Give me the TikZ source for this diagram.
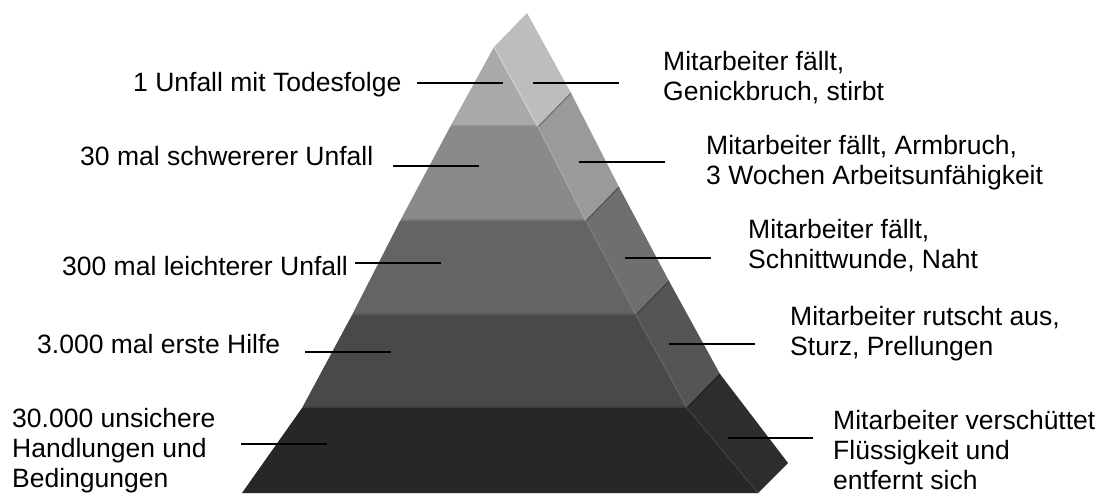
\documentclass[tikz,border=0pt]{standalone}
\usepackage{fontspec}
\setmainfont{Liberation Sans}
% layer colours: front face / right face
\definecolor{fa}{HTML}{A9A9A9}\definecolor{sa}{HTML}{BDBDBD}
\definecolor{fb}{HTML}{8A8A8A}\definecolor{sb}{HTML}{9A9A9A}
\definecolor{fc}{HTML}{646464}\definecolor{sc}{HTML}{6F6F6F}
\definecolor{fd}{HTML}{494949}\definecolor{sd}{HTML}{555555}
\definecolor{fe}{HTML}{272727}\definecolor{se}{HTML}{2D2D2D}
\begin{document}
\begin{tikzpicture}[x=1pt,y=-1pt,
  lbl/.style={font=\fontsize{26.5}{30}\selectfont, inner sep=0pt, anchor=base west, align=left},
  leader/.style={draw=black, line width=2pt},
  bevel/.style={line width=2.5pt},
  ridge/.style={line width=1pt},
  seam/.style={line width=1pt, draw=black!80}]
\useasboundingbox (0,0) rectangle (1100,493);

% --- pyramid layers (front face, right face) ---
\fill[fa] (494,47) -- (538,127) -- (450,127) -- cycle;
\fill[sa] (494,47) -- (527,13) -- (571,93) -- (538,127) -- cycle;
\fill[fb] (450,127) -- (538,127) -- (586,221) -- (400,221) -- cycle;
\fill[sb] (538,127) -- (571,93) -- (619,187) -- (586,221) -- cycle;
\fill[fc] (400,221) -- (586,221) -- (636,315) -- (352,315) -- cycle;
\fill[sc] (586,221) -- (619,187) -- (669,281) -- (636,315) -- cycle;
\fill[fd] (352,315) -- (636,315) -- (687,408) -- (302,408) -- cycle;
\fill[sd] (636,315) -- (669,281) -- (720,374) -- (687,408) -- cycle;
\fill[fe] (302,408) -- (687,408) -- (758,493) -- (242,493) -- cycle;
\fill[se] (687,408) -- (720,374) -- (788,463) -- (758,493) -- cycle;

% bevel strips along the lower edge of each front face
\draw[bevel, color=fa!85!black] (451,125.8) -- (537,125.8);
\draw[bevel, color=fb!88!black] (401,219.8) -- (585,219.8);
\draw[bevel, color=fc!88!black] (353,313.8) -- (635,313.8);
\draw[bevel, color=fd!85!black] (303,406.8) -- (686,406.8);

% light ridges between front and right faces
\draw[ridge, color=sa!70!white] (494,47) -- (538,127);
\draw[ridge, color=sb!85!white] (538,127) -- (586,221);
\draw[ridge, color=sc!90!white] (586,221) -- (636,315);
\draw[ridge, color=sd!90!white] (636,315) -- (687,408);
\draw[ridge, color=se!90!white] (687,408) -- (758,493);

% seams between the right faces of neighbouring layers
\draw[seam, draw=sb!70!black] (538,127) -- (571,93);
\draw[seam, draw=sc!70!black] (586,221) -- (619,187);
\draw[seam, draw=sd!70!black] (636,315) -- (669,281);
\draw[seam, draw=se!60!black] (687,408) -- (720,374);

% --- labels, left (multi-line nodes sit on their last baseline) ---
\node[lbl] (t1) at (133,91) {1 Unfall mit Todesfolge};
\node[lbl] (t2) at (80,165) {30 mal schwererer Unfall};
\node[lbl] (t3) at (62,275) {300 mal leichterer Unfall};
\node[lbl] (t4) at (37,353) {3.000 mal erste Hilfe};
\node[lbl] (t5) at (12,487) {30.000 unsichere\\Handlungen und\\Bedingungen};

% --- labels, right ---
\node[lbl] (r1) at (663,100) {Mitarbeiter fällt,\\Genickbruch, stirbt};
\node[lbl] (r2) at (706,184) {Mitarbeiter fällt, Armbruch,\\3 Wochen Arbeitsunfähigkeit};
\node[lbl] (r3) at (748,268) {Mitarbeiter fällt,\\Schnittwunde, Naht};
\node[lbl] (r4) at (790,355) {Mitarbeiter rutscht aus,\\Sturz, Prellungen};
\node[lbl] (r5) at (833,489) {Mitarbeiter verschüttet\\Flüssigkeit und\\entfernt sich};

% --- leader lines ---
\coordinate (t1a) at (417,83);  \coordinate (t1b) at (503,83);
\coordinate (t2a) at (393,166); \coordinate (t2b) at (479,166);
\coordinate (t3a) at (355,263); \coordinate (t3b) at (441,263);
\coordinate (t4a) at (305,352); \coordinate (t4b) at (391,352);
\coordinate (t5a) at (241,444); \coordinate (t5b) at (327,444);
\coordinate (r1a) at (533,83);  \coordinate (r1b) at (619,83);
\coordinate (r2a) at (579,162); \coordinate (r2b) at (665,162);
\coordinate (r3a) at (625,258); \coordinate (r3b) at (711,258);
\coordinate (r4a) at (669,344); \coordinate (r4b) at (755,344);
\coordinate (r5a) at (728,438); \coordinate (r5b) at (813,438);
\foreach \n in {t1,t2,t3,t4,t5,r1,r2,r3,r4,r5}
  \draw[leader] (\n a) -- (\n b);
\end{tikzpicture}
\end{document}
